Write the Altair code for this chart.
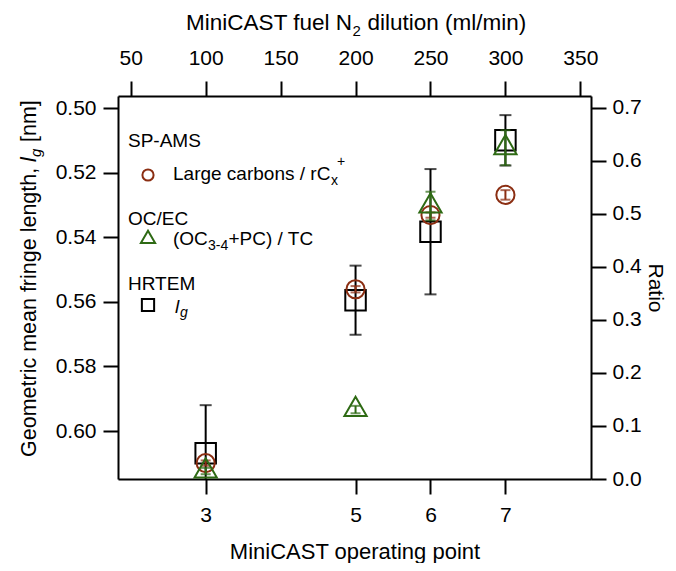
import altair as alt
import pandas as pd

# ---------------- data ----------------
dilution = [100, 200, 250, 300]          # MiniCAST fuel N2 dilution (ml/min)
op_point = [3, 5, 6, 7]                  # MiniCAST operating point
top_ticks = [50, 100, 150, 200, 250, 300, 350]
left_ticks = [0.50, 0.52, 0.54, 0.56, 0.58, 0.60]
right_ticks = [0.0, 0.1, 0.2, 0.3, 0.4, 0.5, 0.6, 0.7]

lg = [0.6069, 0.5595, 0.5383, 0.5100]        # HRTEM l_g (nm)
lg_err = [0.0149, 0.0107, 0.0194, 0.0078]
large_c = [0.030, 0.358, 0.498, 0.536]       # SP-AMS large carbons / rCx+
large_c_err = [0.005, 0.006, 0.005, 0.009]
ocec = [0.015, 0.131, 0.515, 0.625]          # (OC3-4+PC)/TC
ocec_err = [0.006, 0.007, 0.027, 0.033]

FONT = "Liberation Sans"
BROWN = "#8b2e12"
GREEN = "#2e6a14"
BLACK = "#000000"


def frame(vals, errs):
    return pd.DataFrame({
        "dil": dilution,
        "v": vals,
        "lo": [v - e for v, e in zip(vals, errs)],
        "hi": [v + e for v, e in zip(vals, errs)],
    })


df_lg = frame(lg, lg_err)
df_c = frame(large_c, large_c_err)
df_t = frame(ocec, ocec_err)

xscale = alt.Scale(domain=[41.5, 357.1], nice=False, zero=False)
yl_scale = alt.Scale(domain=[0.49628, 0.61486], reverse=True, nice=False, zero=False)
yr_scale = alt.Scale(domain=[0.0, 0.7226], nice=False, zero=False)

common = dict(tickSize=15, tickWidth=2, tickColor=BLACK, domainColor=BLACK, domainWidth=2,
              labelFont=FONT, labelFontSize=21, labelColor=BLACK, labelFlush=False,
              labelOverlap=False, titleFont=FONT, titleColor=BLACK,
              titleFontWeight="normal", grid=False)

label_expr = " : ".join(
    f"datum.value == {d} ? '{o}'" for d, o in zip(dilution, op_point)) + " : ''"

bottom_axis = alt.Axis(orient="bottom", values=dilution, labelExpr=label_expr,
                       title="MiniCAST operating point", titleFontSize=22,
                       labelPadding=10, titlePadding=16, **common)
top_axis = alt.Axis(orient="top", values=top_ticks, format="d", title=None, labelPadding=13, **common)
left_axis = alt.Axis(orient="left", values=left_ticks, format=".2f", title=None, labelPadding=7, **common)
right_axis = alt.Axis(orient="right", values=right_ticks, format=".1f", title="Ratio",
                      titleFontSize=21, titlePadding=3, labelPadding=6, **common)


def series(df, xaxis, yscale, yaxis, color, shape, size, cap):
    base = alt.Chart(df)
    x = alt.X("dil:Q", scale=xscale, axis=xaxis)
    rule = base.mark_rule(color=color, strokeWidth=2, clip=True).encode(
        x=x, y=alt.Y("lo:Q", scale=yscale, axis=yaxis), y2="hi:Q")
    lo = base.mark_tick(color=color, orient="horizontal", size=cap, thickness=2, clip=True).encode(
        x=x, y=alt.Y("lo:Q", scale=yscale, axis=yaxis))
    hi = base.mark_tick(color=color, orient="horizontal", size=cap, thickness=2, clip=True).encode(
        x=x, y=alt.Y("hi:Q", scale=yscale, axis=yaxis))
    pts = base.mark_point(shape=shape, size=size, filled=False, color=color, strokeWidth=2,
                          opacity=1).encode(x=x, y=alt.Y("v:Q", scale=yscale, axis=yaxis))
    return [pts, rule, lo, hi]


TRI = "M0,-1L-0.866,0.5L0.866,0.5Z"

left_group = alt.layer(*series(df_lg, bottom_axis, yl_scale, left_axis, BLACK, "square", 420, 12))
right_group = alt.layer(
    *series(df_c, top_axis, yr_scale, right_axis, BROWN, "circle", 330, 10),
    *series(df_t, top_axis, yr_scale, right_axis, GREEN, TRI, 660, 10),
)

one = alt.Data(values=[{"a": 1}])


def txt(s, x, y, size=19, align="left", angle=0, italic=False, baseline="alphabetic"):
    kw = dict(text=s, font=FONT, fontSize=size, align=align, baseline=baseline, color=BLACK)
    if angle:
        kw["angle"] = angle
    if italic:
        kw["fontStyle"] = "italic"
    return alt.Chart(one).mark_text(**kw).encode(x=alt.value(x), y=alt.value(y))


def sym(shape, size, color, x, y):
    return alt.Chart(one).mark_point(shape=shape, size=size, filled=False, color=color,
                                     strokeWidth=2, opacity=1).encode(x=alt.value(x), y=alt.value(y))


texts = [
    # legend
    txt("SP-AMS", 10, 51),
    sym("circle", 125, BROWN, 30, 79),
    txt("Large carbons / rC", 55, 84),
    txt("x", 213, 89, size=14),
    txt("+", 219, 70, size=14),
    txt("OC/EC", 10, 129),
    sym(TRI, 270, GREEN, 30, 143),
    txt("(OC", 55, 149),
    txt("3-4", 90, 154, size=14),
    txt("+PC) / TC", 110.5, 149),
    txt("HRTEM", 10, 194),
    sym("square", 150, BLACK, 30, 209),
    txt("l", 57, 217, italic=True),
    txt("g", 62, 221, size=14, italic=True),
    # top title
    txt("MiniCAST fuel N", 234, -66, size=22.5, align="right"),
    txt("2", 234.5, -60, size=15),
    txt("dilution (ml/min)", 249.5, -66, size=22.5),
    # left title (rotated)
    txt("Geometric mean fringe length,", -82, 361, size=21.5, angle=270),
    txt("l", -82, 66, size=21.5, angle=270, italic=True),
    txt("g", -77, 61, size=15, angle=270, italic=True),
    txt("[nm]", -82, 46, size=21.5, angle=270),
]

chart = alt.layer(left_group, right_group, *texts).resolve_scale(
    y="independent").resolve_axis(x="independent", y="independent").properties(
    width=473, height=383,
    autosize=alt.AutoSizeParams(type="none"),
    padding={"left": 110, "top": 88, "right": 77, "bottom": 84},
).configure_view(stroke=None)

chart.save("out.html", embed_options={"renderer": "svg", "actions": False})
